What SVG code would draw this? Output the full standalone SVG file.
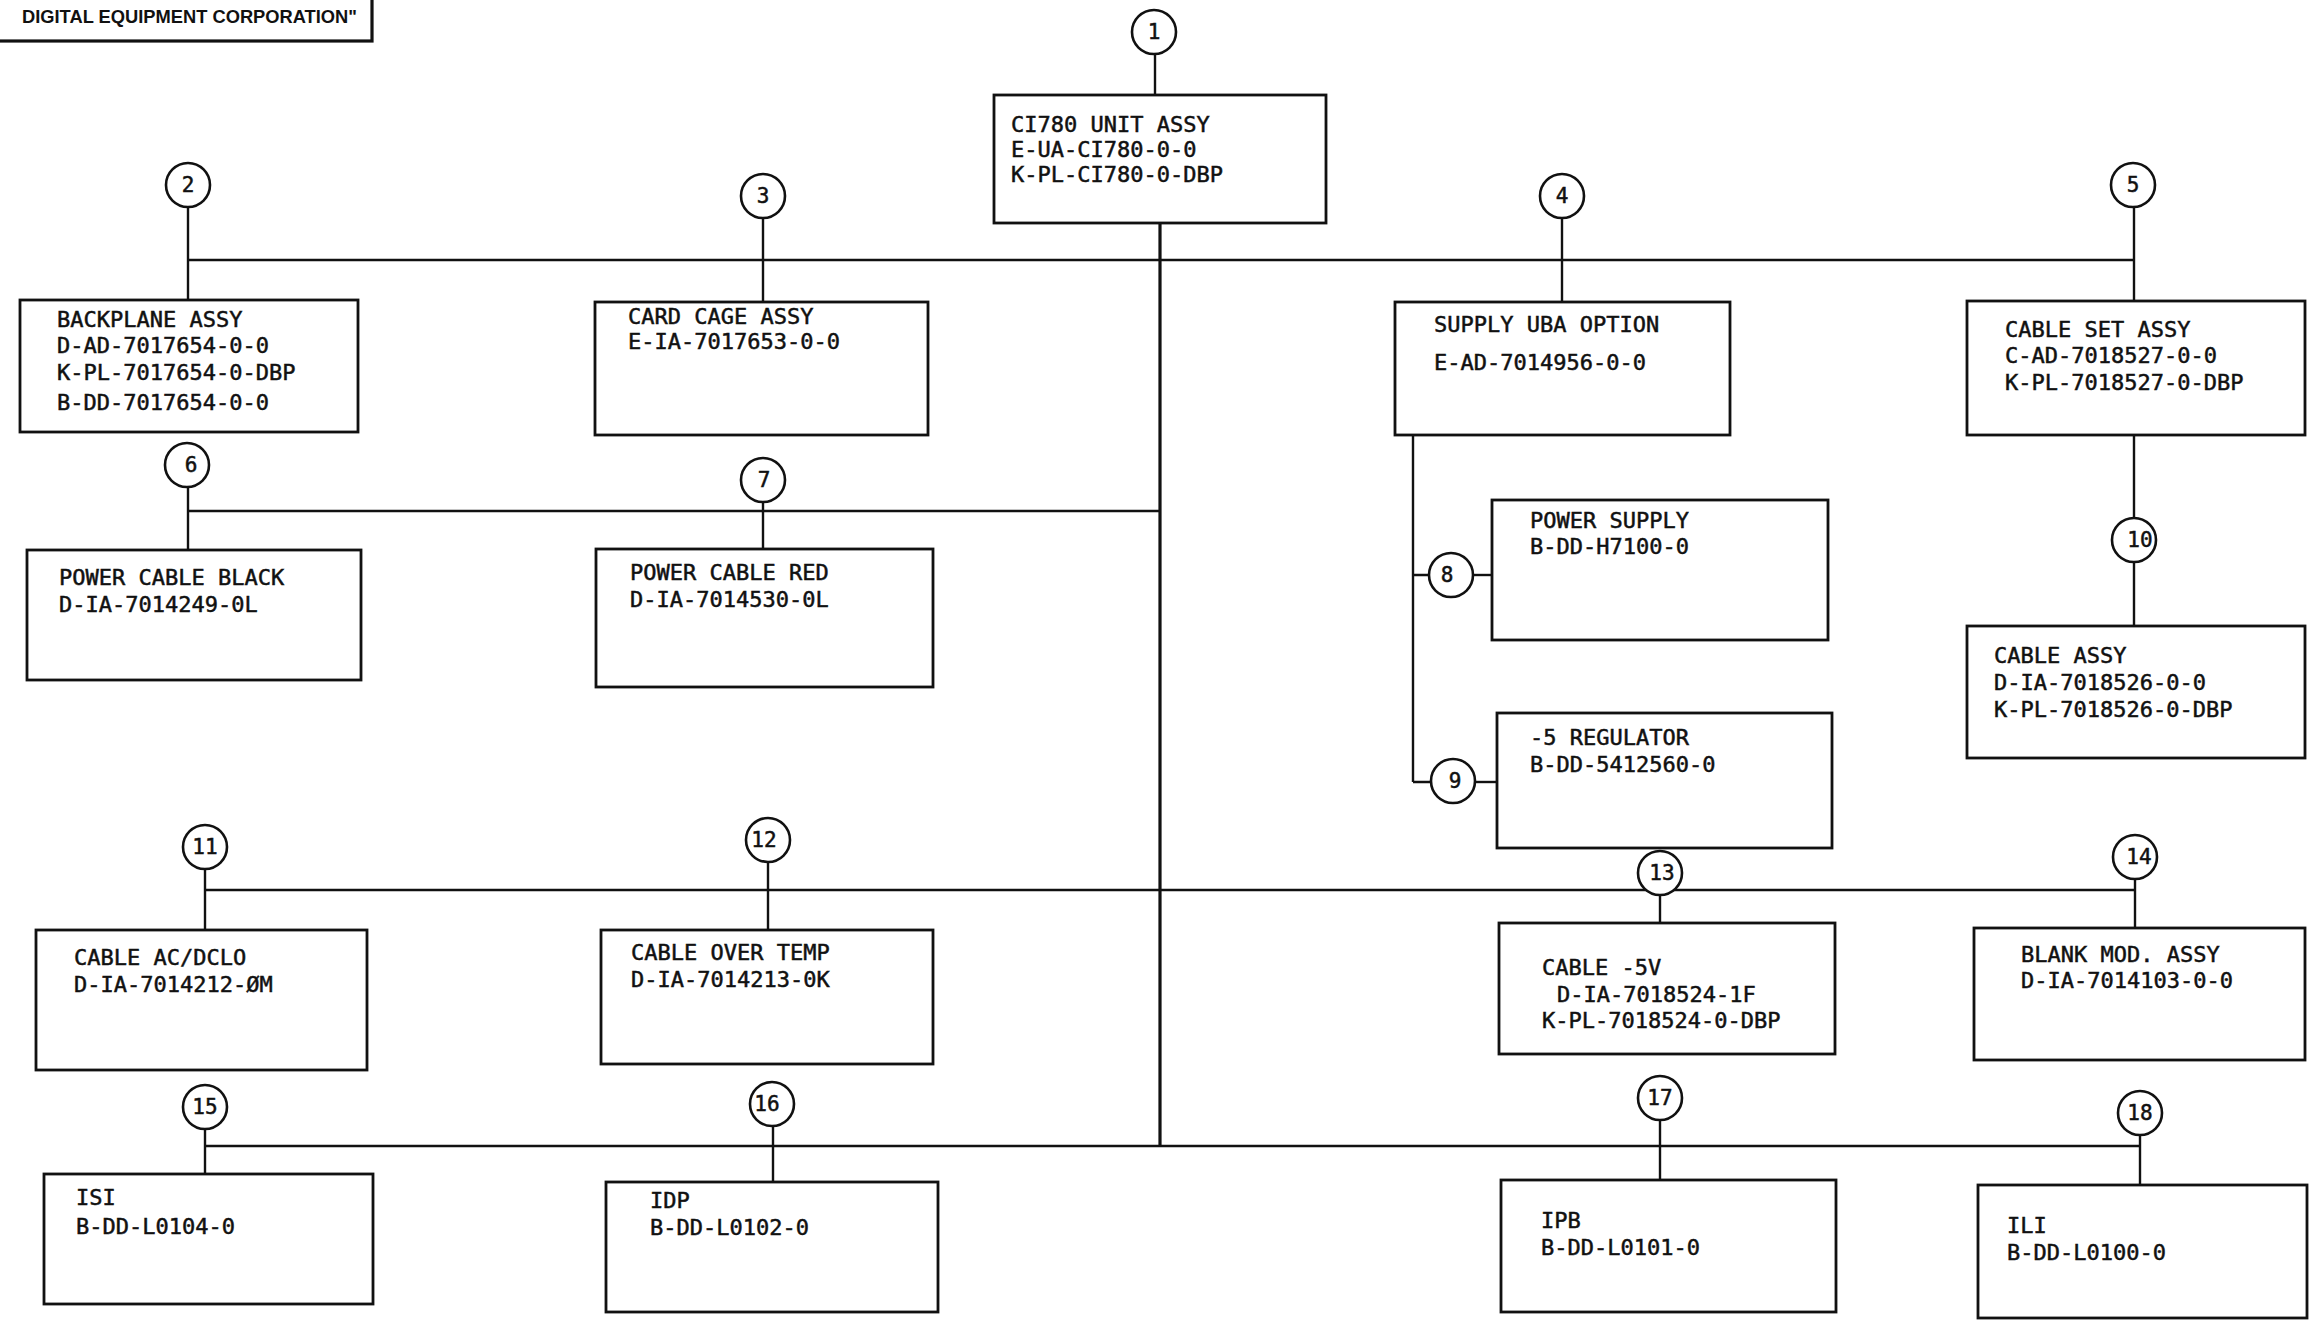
<svg xmlns="http://www.w3.org/2000/svg" width="2318" height="1327" viewBox="0 0 2318 1327">
<style>
.bg{fill:#fff}
.box{fill:#fff;stroke:#111;stroke-width:2.8}
.ln{fill:none;stroke:#111;stroke-width:2.4}
.trunk{fill:none;stroke:#111;stroke-width:3.2}
.c{fill:#fff;stroke:#111;stroke-width:2.6}
.t{font-family:"DejaVu Sans Mono","Liberation Mono",monospace;font-size:22px;fill:#111;stroke:#111;stroke-width:0.5}
.n{font-family:"DejaVu Sans Mono","Liberation Mono",monospace;font-size:21px;fill:#111;stroke:#111;stroke-width:0.5;text-anchor:middle}
.hd{font-family:"Liberation Sans",Arial,sans-serif;font-size:19px;font-weight:bold;fill:#111}
</style>
<rect class="bg" x="0" y="0" width="2318" height="1327"/>

<g id="header">
<rect x="-6" y="-6" width="378" height="47" fill="none" stroke="#111" stroke-width="3.2"/>
<text class="hd" x="22" y="23" textLength="335" lengthAdjust="spacingAndGlyphs">DIGITAL EQUIPMENT CORPORATION"</text>
</g>

<g id="connectors">
<path class="ln" d="M1155 54 V95"/>
<path class="trunk" d="M1160 223 V1147"/>
<path class="ln" d="M189 260 H2135"/>
<path class="ln" d="M188 207 V300"/>
<path class="ln" d="M763 218 V302"/>
<path class="ln" d="M1562 218 V302"/>
<path class="ln" d="M2134 208 V301"/>
<path class="ln" d="M189 511 H1160"/>
<path class="ln" d="M188 487 V550"/>
<path class="ln" d="M763 502 V549"/>
<path class="ln" d="M1413 435 V782 M1413 575 H1430 M1413 782 H1432"/>
<path class="ln" d="M1473 575 H1492"/>
<path class="ln" d="M1475 782 H1497"/>
<path class="ln" d="M2134 435 V518 M2134 562 V626"/>
<path class="ln" d="M205 890 H2135"/>
<path class="ln" d="M205 869 V930"/>
<path class="ln" d="M768 862 V930"/>
<path class="ln" d="M1660 895 V923"/>
<path class="ln" d="M2135 879 V928"/>
<path class="ln" d="M205 1146 H2140"/>
<path class="ln" d="M205 1129 V1174"/>
<path class="ln" d="M773 1126 V1182"/>
<path class="ln" d="M1660 1120 V1180"/>
<path class="ln" d="M2140 1135 V1185"/>
</g>

<g id="node1">
<circle class="c" cx="1154" cy="32" r="22"/><text class="n" x="1154" y="39">1</text>
<rect class="box" x="994" y="95" width="332" height="128"/>
<text class="t" x="1011" y="132">CI780 UNIT ASSY</text>
<text class="t" x="1011" y="157">E-UA-CI780-0-0</text>
<text class="t" x="1011" y="182">K-PL-CI780-0-DBP</text>
</g>

<g id="node2">
<circle class="c" cx="188" cy="185" r="22"/><text class="n" x="188" y="192">2</text>
<rect class="box" x="20" y="300" width="338" height="132"/>
<text class="t" x="57" y="327">BACKPLANE ASSY</text>
<text class="t" x="57" y="353">D-AD-7017654-0-0</text>
<text class="t" x="57" y="380">K-PL-7017654-0-DBP</text>
<text class="t" x="57" y="410">B-DD-7017654-0-0</text>
</g>

<g id="node3">
<circle class="c" cx="763" cy="196" r="22"/><text class="n" x="763" y="203">3</text>
<rect class="box" x="595" y="302" width="333" height="133"/>
<text class="t" x="628" y="324">CARD CAGE ASSY</text>
<text class="t" x="628" y="349">E-IA-7017653-0-0</text>
</g>

<g id="node4">
<circle class="c" cx="1562" cy="196" r="22"/><text class="n" x="1562" y="203">4</text>
<rect class="box" x="1395" y="302" width="335" height="133"/>
<text class="t" x="1434" y="332">SUPPLY UBA OPTION</text>
<text class="t" x="1434" y="370">E-AD-7014956-0-0</text>
</g>

<g id="node5">
<circle class="c" cx="2133" cy="185" r="22"/><text class="n" x="2133" y="192">5</text>
<rect class="box" x="1967" y="301" width="338" height="134"/>
<text class="t" x="2005" y="337">CABLE SET ASSY</text>
<text class="t" x="2005" y="363">C-AD-7018527-0-0</text>
<text class="t" x="2005" y="390">K-PL-7018527-0-DBP</text>
</g>

<g id="node6">
<circle class="c" cx="187" cy="465" r="22"/><text class="n" x="191" y="472">6</text>
<rect class="box" x="27" y="550" width="334" height="130"/>
<text class="t" x="59" y="585">POWER CABLE BLACK</text>
<text class="t" x="59" y="612">D-IA-7014249-0L</text>
</g>

<g id="node7">
<circle class="c" cx="763" cy="480" r="22"/><text class="n" x="764" y="487">7</text>
<rect class="box" x="596" y="549" width="337" height="138"/>
<text class="t" x="630" y="580">POWER CABLE RED</text>
<text class="t" x="630" y="607">D-IA-7014530-0L</text>
</g>

<g id="node8">
<circle class="c" cx="1451" cy="575" r="22"/><text class="n" x="1447" y="582">8</text>
<rect class="box" x="1492" y="500" width="336" height="140"/>
<text class="t" x="1530" y="528">POWER SUPPLY</text>
<text class="t" x="1530" y="554">B-DD-H7100-0</text>
</g>

<g id="node9">
<circle class="c" cx="1453" cy="781" r="22"/><text class="n" x="1455" y="788">9</text>
<rect class="box" x="1497" y="713" width="335" height="135"/>
<text class="t" x="1530" y="745">-5 REGULATOR</text>
<text class="t" x="1530" y="772">B-DD-5412560-0</text>
</g>

<g id="node10">
<circle class="c" cx="2134" cy="540" r="22"/><text class="n" x="2140" y="547">10</text>
<rect class="box" x="1967" y="626" width="338" height="132"/>
<text class="t" x="1994" y="663">CABLE ASSY</text>
<text class="t" x="1994" y="690">D-IA-7018526-0-0</text>
<text class="t" x="1994" y="717">K-PL-7018526-0-DBP</text>
</g>

<g id="node11">
<circle class="c" cx="205" cy="847" r="22"/><text class="n" x="205" y="854">11</text>
<rect class="box" x="36" y="930" width="331" height="140"/>
<text class="t" x="74" y="965">CABLE AC/DCLO</text>
<text class="t" x="74" y="992">D-IA-7014212-ØM</text>
</g>

<g id="node12">
<circle class="c" cx="768" cy="840" r="22"/><text class="n" x="764" y="847">12</text>
<rect class="box" x="601" y="930" width="332" height="134"/>
<text class="t" x="631" y="960">CABLE OVER TEMP</text>
<text class="t" x="631" y="987">D-IA-7014213-0K</text>
</g>

<g id="node13">
<circle class="c" cx="1660" cy="873" r="22"/><text class="n" x="1662" y="880">13</text>
<rect class="box" x="1499" y="923" width="336" height="131"/>
<text class="t" x="1542" y="975">CABLE -5V</text>
<text class="t" x="1557" y="1002">D-IA-7018524-1F</text>
<text class="t" x="1542" y="1028">K-PL-7018524-0-DBP</text>
</g>

<g id="node14">
<circle class="c" cx="2135" cy="857" r="22"/><text class="n" x="2139" y="864">14</text>
<rect class="box" x="1974" y="928" width="331" height="132"/>
<text class="t" x="2021" y="962">BLANK MOD. ASSY</text>
<text class="t" x="2021" y="988">D-IA-7014103-0-0</text>
</g>

<g id="node15">
<circle class="c" cx="205" cy="1107" r="22"/><text class="n" x="205" y="1114">15</text>
<rect class="box" x="44" y="1174" width="329" height="130"/>
<text class="t" x="76" y="1205">ISI</text>
<text class="t" x="76" y="1234">B-DD-L0104-0</text>
</g>

<g id="node16">
<circle class="c" cx="772" cy="1104" r="22"/><text class="n" x="767" y="1111">16</text>
<rect class="box" x="606" y="1182" width="332" height="130"/>
<text class="t" x="650" y="1208">IDP</text>
<text class="t" x="650" y="1235">B-DD-L0102-0</text>
</g>

<g id="node17">
<circle class="c" cx="1660" cy="1098" r="22"/><text class="n" x="1660" y="1105">17</text>
<rect class="box" x="1501" y="1180" width="335" height="132"/>
<text class="t" x="1541" y="1228">IPB</text>
<text class="t" x="1541" y="1255">B-DD-L0101-0</text>
</g>

<g id="node18">
<circle class="c" cx="2140" cy="1113" r="22"/><text class="n" x="2140" y="1120">18</text>
<rect class="box" x="1978" y="1185" width="329" height="133"/>
<text class="t" x="2007" y="1233">ILI</text>
<text class="t" x="2007" y="1260">B-DD-L0100-0</text>
</g>
</svg>
